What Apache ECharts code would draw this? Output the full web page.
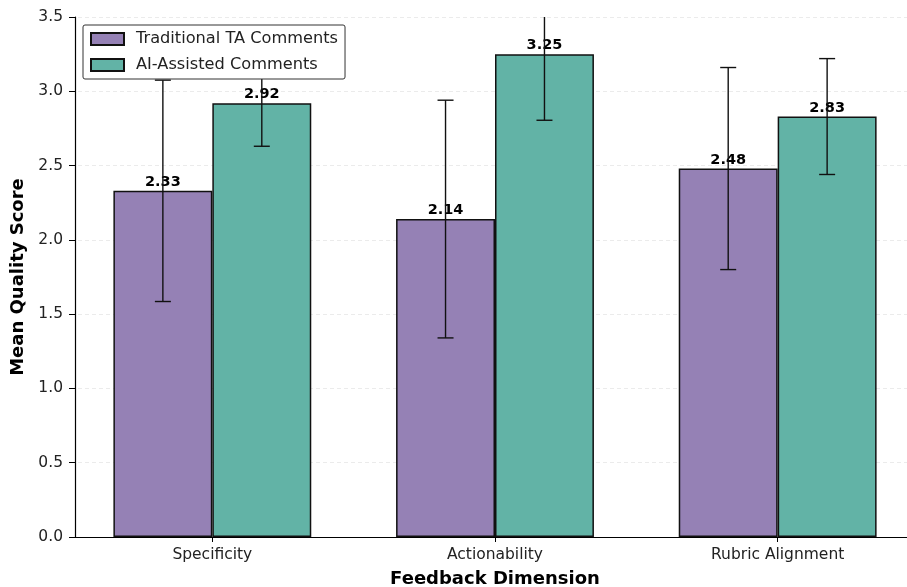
<!DOCTYPE html>
<html>
<head>
<meta charset="utf-8">
<script src="https://cdn.jsdelivr.net/npm/echarts@6/dist/echarts.min.js"></script>
<style>
html,body{margin:0;padding:0;background:#fff;}
#chart{width:907px;height:587px;}
</style>
</head>
<body>
<div id="chart"></div>
<script>
const categories = ['Specificity', 'Actionability', 'Rubric Alignment'];
const seriesNames = ['Traditional TA Comments', 'AI-Assisted Comments'];
const traditionalMeans = [2.33, 2.14, 2.48];
const traditionalErr = [0.745, 0.80, 0.68];
const aiMeans = [2.92, 3.25, 2.83];
const aiErr = [0.29, 0.445, 0.39];
const yTicks = [0, 0.5, 1.0, 1.5, 2.0, 2.5, 3.0, 3.5];

const FONT = 'DejaVu Sans';
const PURPLE = '#9581b5';
const TEAL = '#62b3a6';

function errorSeries(means, errs, sideSign) {
  return {
    type: 'custom',
    z: 10,
    silent: true,
    clip: true,
    data: means.map((m, i) => [i, m, errs[i]]),
    renderItem: function (params, api) {
      const i = api.value(0), m = api.value(1), e = api.value(2);
      const band = api.size([1, 0])[0];
      const c = api.coord([i, m]);
      const x = c[0] + sideSign * band * 0.175;
      const top = api.coord([i, m + e])[1];
      const bot = api.coord([i, m - e])[1];
      const cap = 8;
      const style = { stroke: '#111', lineWidth: 1.4, fill: null };
      const children = [
        { type: 'line', shape: { x1: x, y1: top, x2: x, y2: bot }, style: style },
        { type: 'line', shape: { x1: x - cap, y1: bot, x2: x + cap, y2: bot }, style: style },
        { type: 'line', shape: { x1: x - cap, y1: top, x2: x + cap, y2: top }, style: style }
      ];
      return { type: 'group', children: children };
    }
  };
}

const chart = echarts.init(document.getElementById('chart'), null, { renderer: 'canvas' });
const barLabel = {
  show: true, position: 'top', distance: 1,
  fontFamily: FONT, fontWeight: 'bold', fontSize: 14.5, color: '#000',
  formatter: p => p.value.toFixed(2)
};
chart.setOption({
  animation: false,
  backgroundColor: '#fff',
  textStyle: { fontFamily: FONT },
  grid: { left: 71, top: 17, width: 848, bottom: 50, containLabel: false, outerBoundsMode: 'none' },
  legend: {
    orient: 'vertical', left: 83, top: 25,
    data: seriesNames,
    icon: 'rect',
    itemWidth: 33, itemHeight: 12, itemGap: 10,
    padding: [6, 7, 6, 7],
    borderColor: '#333', borderWidth: 1, borderRadius: 2,
    backgroundColor: '#fff',
    textStyle: { fontFamily: FONT, fontSize: 16.2, color: '#222', padding: [0, 0, 0, 7] },
    z: 20
  },
  xAxis: {
    type: 'category',
    data: categories,
    name: 'Feedback Dimension',
    nameLocation: 'middle', nameGap: 33,
    nameTextStyle: { fontFamily: FONT, fontWeight: 'bold', fontSize: 18, color: '#000' },
    axisLine: { lineStyle: { color: '#000', width: 1.2 } },
    axisTick: { show: true, alignWithLabel: true, length: 5, lineStyle: { color: '#000' } },
    axisLabel: { fontFamily: FONT, fontSize: 15.5, color: '#222', margin: 10 },
    splitLine: { show: false }
  },
  yAxis: {
    type: 'value',
    min: 0, max: 3.5, interval: 0.5,
    offset: -4,
    name: 'Mean Quality Score',
    nameLocation: 'middle', nameGap: 45,
    nameTextStyle: { fontFamily: FONT, fontWeight: 'bold', fontSize: 18, color: '#000' },
    axisLine: { show: true, lineStyle: { color: '#000', width: 1.2 } },
    axisTick: { show: true, length: 6, lineStyle: { color: '#000' } },
    axisLabel: { fontFamily: FONT, fontSize: 15.5, color: '#222', margin: 12,
      formatter: v => yTicks.includes(v) ? v.toFixed(1) : '' },
    splitLine: { show: true, lineStyle: { color: '#e6e6e6', type: [4, 3], width: 0.8 } }
  },
  series: [
    {
      name: seriesNames[0], type: 'bar', data: traditionalMeans,
      barWidth: '35%', barGap: '0%',
      itemStyle: { color: PURPLE, borderColor: '#111', borderWidth: 1.5 },
      label: barLabel, z: 2
    },
    {
      name: seriesNames[1], type: 'bar', data: aiMeans,
      barWidth: '35%', barGap: '0%',
      itemStyle: { color: TEAL, borderColor: '#111', borderWidth: 1.5 },
      label: barLabel, z: 2
    },
    errorSeries(traditionalMeans, traditionalErr, -1),
    errorSeries(aiMeans, aiErr, 1)
  ]
});
</script>
</body>
</html>
